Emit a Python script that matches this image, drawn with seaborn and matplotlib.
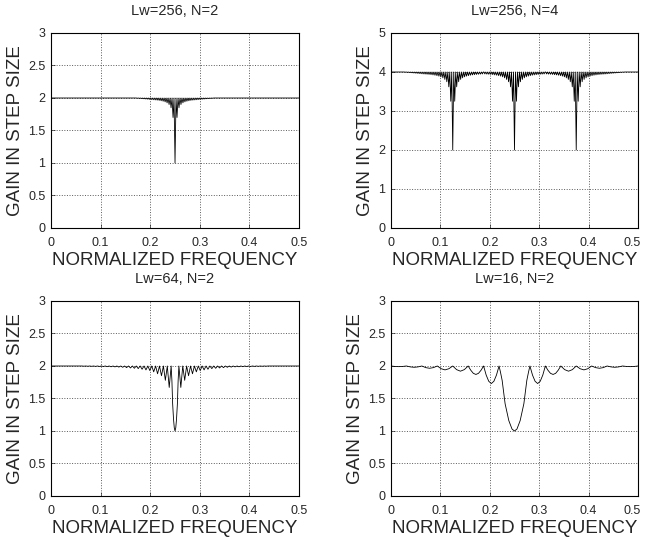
import matplotlib
matplotlib.use("Agg")
import matplotlib.pyplot as plt
import matplotlib.transforms as mtransforms
import seaborn as sns
import pandas as pd
import numpy as np


# one side of each dip: distance from the dip centre (normalized frequency)
# and how far the gain falls below its flat level there
LW256_OFFSET = [0.000, 0.002, 0.004, 0.006, 0.008, 0.010, 0.012, 0.014, 0.016, 0.018,
                0.020, 0.022, 0.024, 0.026, 0.028, 0.030, 0.032, 0.034, 0.036, 0.038,
                0.040, 0.042, 0.044, 0.046, 0.048, 0.050, 0.052, 0.054, 0.056, 0.058,
                0.060, 0.062, 0.064, 0.066, 0.068, 0.070, 0.072, 0.074, 0.076, 0.078,
                0.080, 0.082, 0.084, 0.086, 0.088, 0.090, 0.092, 0.094, 0.096, 0.098]
LW256_N2_DROP = [1.00, 0.0, 0.30, 0.0, 0.15, 0.0, 0.10, 0.0, 0.075, 0.0,
                 0.060, 0.0, 0.050, 0.0, 0.043, 0.0, 0.037, 0.0, 0.033, 0.0,
                 0.030, 0.0, 0.027, 0.0, 0.024, 0.0, 0.021, 0.0, 0.018, 0.0,
                 0.015, 0.0, 0.012, 0.0, 0.009, 0.0, 0.006, 0.0, 0.004, 0.0,
                 0.0, 0.0, 0.0, 0.0, 0.0, 0.0, 0.0, 0.0, 0.0, 0.0]
LW256_N4_DROP = [2.00, 0.0, 0.75, 0.0, 0.38, 0.0, 0.25, 0.0, 0.19, 0.0,
                 0.150, 0.0, 0.125, 0.0, 0.107, 0.0, 0.094, 0.0, 0.083, 0.0,
                 0.075, 0.0, 0.068, 0.0, 0.0625, 0.0, 0.058, 0.0, 0.054, 0.0,
                 0.050, 0.0, 0.045, 0.0, 0.040, 0.0, 0.035, 0.0, 0.030, 0.0,
                 0.025, 0.0, 0.020, 0.0, 0.015, 0.0, 0.010, 0.0, 0.005, 0.0]

LW64_OFFSET = [0.0, 0.0015, 0.0030, 0.0048, 0.0063, 0.0078, 0.0117, 0.0156, 0.0195, 0.0234,
               0.0273, 0.0313, 0.0352, 0.0391, 0.0430, 0.0469, 0.0508, 0.0547, 0.0586, 0.0625,
               0.0664, 0.0703, 0.0742, 0.0781, 0.0820, 0.0859, 0.0898, 0.0938, 0.0977, 0.1016,
               0.1055, 0.1094, 0.1133, 0.1172, 0.1211, 0.1250, 0.1289, 0.1328, 0.1367, 0.1406,
               0.1445, 0.1484, 0.1523, 0.1563, 0.1602, 0.1641, 0.1680, 0.1719, 0.1758, 0.1797,
               0.1836, 0.1875]
LW64_DROP = [1.00, 0.95, 0.82, 0.58, 0.22, 0.0, 0.33, 0.0, 0.22, 0.0,
             0.15, 0.0, 0.12, 0.0, 0.09, 0.0, 0.07, 0.0, 0.06, 0.0,
             0.05, 0.0, 0.04, 0.0, 0.035, 0.0, 0.03, 0.0, 0.025, 0.0,
             0.02, 0.0, 0.017, 0.0, 0.014, 0.0, 0.012, 0.0, 0.010, 0.0,
             0.008, 0.0, 0.007, 0.0, 0.006, 0.0, 0.005, 0.0, 0.004, 0.0,
             0.003, 0.0]

LW16_OFFSET = [0.0, 0.005, 0.0115, 0.019, 0.025, 0.0285, 0.03125,
               0.0365, 0.0417, 0.0469, 0.0521, 0.0573, 0.0625,
               0.0677, 0.0729, 0.0781, 0.0833, 0.0885, 0.09375,
               0.1016, 0.1094, 0.1172, 0.125,
               0.1328, 0.1406, 0.1484, 0.15625,
               0.1641, 0.1719, 0.1797, 0.1875,
               0.1953, 0.2031, 0.2109, 0.21875,
               0.2266, 0.2344, 0.2422, 0.25]
LW16_DROP = [1.00, 0.97, 0.84, 0.58, 0.22, 0.09, 0.0,
             0.14, 0.235, 0.27, 0.235, 0.14, 0.0,
             0.065, 0.113, 0.13, 0.113, 0.065, 0.0,
             0.056, 0.08, 0.056, 0.0,
             0.042, 0.06, 0.042, 0.0,
             0.025, 0.035, 0.025, 0.0,
             0.014, 0.02, 0.014, 0.0,
             0.007, 0.01, 0.007, 0.0]

TITLES = ["Lw=256, N=2", "Lw=256, N=4", "Lw=64, N=2", "Lw=16, N=2"]
DIP_CENTRES = [[0.25], [0.125, 0.25, 0.375], [0.25], [0.25]]
FLAT_GAIN = [2.0, 4.0, 2.0, 2.0]
Y_MAX = [3, 5, 3, 3]
Y_STEP = [0.5, 1, 0.5, 0.5]
FREQ_TICKS = [0, 0.1, 0.2, 0.3, 0.4, 0.5]
PROFILES = [(LW256_OFFSET, LW256_N2_DROP), (LW256_OFFSET, LW256_N4_DROP),
            (LW64_OFFSET, LW64_DROP), (LW16_OFFSET, LW16_DROP)]


def build_curve(centres, offsets, drops, flat):
    offsets = np.array(offsets)
    drops = np.array(drops)
    off = np.concatenate([-offsets[:0:-1], offsets])
    dr = np.concatenate([drops[:0:-1], drops])
    half = 0.0625 if len(centres) > 1 else 0.25
    xs, ys = [0.0, 0.5], [flat, flat]
    for c in centres:
        keep = (np.abs(off) < half) | ((c - half < 0.1) & (off < 0)) | ((c + half > 0.4) & (off > 0))
        xs.extend(c + off[keep])
        ys.extend(flat - dr[keep])
    df = pd.DataFrame({"freq": xs, "gain": ys})
    df = df[(df["freq"] >= 0) & (df["freq"] <= 0.5)]
    df = df.drop_duplicates("freq").sort_values("freq")
    return df


sns.set_theme(style="ticks")
plt.rcParams["font.family"] = ["Liberation Sans", "DejaVu Sans"]

fig = plt.figure(figsize=(6.45, 5.4), dpi=100)
boxes = [
    [0.0791, 0.5778, 0.3845, 0.3611],
    [0.6062, 0.5778, 0.3829, 0.3611],
    [0.0791, 0.0815, 0.3845, 0.3611],
    [0.6062, 0.0815, 0.3829, 0.3611],
]

for i, box in enumerate(boxes):
    ax = fig.add_axes(box)
    offsets, drops = PROFILES[i]
    data = build_curve(DIP_CENTRES[i], offsets, drops, FLAT_GAIN[i])
    sns.lineplot(data=data, x="freq", y="gain", ax=ax, color="black",
                 linewidth=0.6, estimator=None)

    yticks = np.arange(0, Y_MAX[i] + 1e-9, Y_STEP[i])
    ax.set_xlim(0, 0.5)
    ax.set_ylim(0, Y_MAX[i])
    ax.set_xticks(FREQ_TICKS)
    ax.set_xticklabels([f"{v:g}" for v in FREQ_TICKS])
    ax.set_yticks(yticks)
    ax.set_yticklabels([f"{v:g}" for v in yticks])
    ax.grid(True, linestyle=":", color="0.35", linewidth=0.7)
    ax.tick_params(direction="in", length=3, width=0.5, labelsize=9)
    ax.tick_params(axis="x", pad=6.5)
    ax.tick_params(axis="y", pad=4)
    for s in ax.spines.values():
        s.set_linewidth(0.8)
        s.set_color("black")

    # right column: keep the last frequency label inside the figure edge
    if i % 2 == 1:
        last = ax.get_xticklabels()[-1]
        shift = mtransforms.ScaledTranslation(-4 / 72, 0, fig.dpi_scale_trans)
        last.set_transform(last.get_transform() + shift)

    ax.set_title(TITLES[i], fontsize=10.5, pad=13)
    ax.set_xlabel("NORMALIZED FREQUENCY", fontsize=13.5, labelpad=2)
    ax.set_ylabel("GAIN IN STEP SIZE", fontsize=13.5, labelpad=3)

fig.savefig("out.png", dpi=100)
